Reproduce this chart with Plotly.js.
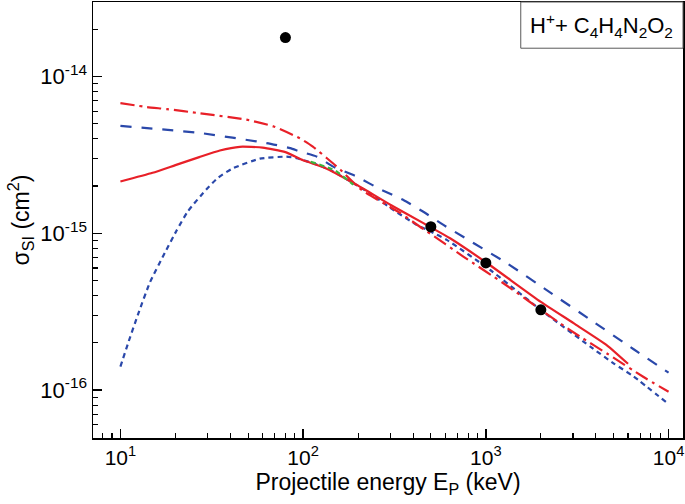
<!DOCTYPE html>
<html>
<head>
<meta charset="utf-8">
<script src="https://cdn.plot.ly/plotly-3.0.1.min.js"></script>
<style>html,body{margin:0;padding:0;background:#fff;}#chart{width:685px;height:504px;}</style>
</head>
<body>
<div id="chart"></div>
<script>
// Projectile energy (keV) and single-ionization cross sections (cm^2)
var solidE = [10, 15, 20, 27, 35, 45, 60, 80, 100, 130, 196, 300, 455, 500, 637, 1000, 2000, 3020, 4600, 6000];
var solidS = [2.14e-15, 2.43e-15, 2.72e-15, 3.06e-15, 3.37e-15, 3.56e-15, 3.52e-15, 3.29e-15, 2.92e-15, 2.63e-15, 2.04e-15, 1.52e-15, 1.16e-15, 1.09e-15, 9.29e-16, 6.53e-16, 3.65e-16, 2.67e-16, 1.93e-16, 1.47e-16];

var dashDotE = [10, 14, 18, 27, 49, 69, 96, 113, 135, 160, 209, 339, 436, 475, 753, 1247, 2450, 3280, 4600, 7300, 10000];
var dashDotS = [6.76e-15, 6.38e-15, 6.19e-15, 5.83e-15, 5.30e-15, 4.80e-15, 4.03e-15, 3.57e-15, 3.01e-15, 2.54e-15, 1.89e-15, 1.35e-15, 1.10e-15, 1.03e-15, 7.10e-16, 4.80e-16, 2.75e-16, 2.19e-16, 1.71e-16, 1.21e-16, 9.75e-17];

var longDashE = [10, 27.2, 63, 85, 96, 119, 146, 196, 264, 354, 455, 586, 1303, 2255, 3730, 6440, 10000];
var longDashS = [4.84e-15, 4.36e-15, 3.76e-15, 3.49e-15, 3.32e-15, 3.08e-15, 2.66e-15, 2.30e-15, 1.91e-15, 1.63e-15, 1.37e-15, 1.13e-15, 6.44e-16, 4.18e-16, 2.81e-16, 1.82e-16, 1.29e-16];

var shortDashE = [10, 11, 12.5, 14.5, 17.5, 20.3, 23.4, 29.6, 34.4, 41.4, 58, 81, 92, 113, 140, 232, 300, 419, 495, 611, 1057, 2000, 3730, 5000, 6440, 10000];
var shortDashS = [1.41e-16, 1.98e-16, 3.05e-16, 4.85e-16, 7.50e-16, 1.04e-15, 1.38e-15, 1.91e-15, 2.27e-15, 2.60e-15, 2.99e-15, 3.08e-15, 3.01e-15, 2.80e-15, 2.54e-15, 1.80e-15, 1.45e-15, 1.13e-15, 1.03e-15, 9.08e-16, 5.83e-16, 3.24e-16, 1.89e-16, 1.48e-16, 1.22e-16, 8.13e-17];

var greenE = [110, 150, 188];
var greenS = [2.86e-15, 2.51e-15, 2.04e-15];

var expE = [80, 500, 1000, 2000];
var expS = [1.77e-14, 1.10e-15, 6.47e-16, 3.25e-16];

var xTickVals = [10, 100, 1000, 10000];
var xTickText = ['10<sup>1</sup>', '10<sup>2</sup>', '10<sup>3</sup>', '10<sup>4</sup>'];
var yTickVals = [1e-16, 1e-15, 1e-14];
var yTickText = ['10<sup>-16</sup>', '10<sup>-15</sup>', '10<sup>-14</sup>'];
var xMinor = [8, 9, 20, 30, 40, 50, 60, 70, 80, 90, 200, 300, 400, 500, 600, 700, 800, 900, 2000, 3000, 4000, 5000, 6000, 7000, 8000, 9000];
var yMinor = [5e-17, 6e-17, 7e-17, 8e-17, 9e-17, 2e-16, 3e-16, 4e-16, 5e-16, 6e-16, 7e-16, 8e-16, 9e-16, 2e-15, 3e-15, 4e-15, 5e-15, 6e-15, 7e-15, 8e-15, 9e-15, 2e-14, 3e-14];

var RED = 'rgb(232,32,40)';
var BLUE = 'rgb(42,72,170)';
var GREEN = 'rgb(60,180,60)';

var traces = [
  {x: longDashE, y: longDashS, mode: 'lines', line: {color: BLUE, width: 2.2, dash: '11px,10px', shape: 'spline', smoothing: 0.5}},
  {x: shortDashE, y: shortDashS, mode: 'lines', line: {color: BLUE, width: 2.2, dash: '5px,4px', shape: 'spline', smoothing: 0.5}},
  {x: dashDotE, y: dashDotS, mode: 'lines', line: {color: RED, width: 2.2, dash: '14px,5px,3px,5px', shape: 'spline', smoothing: 0.5}},
  {x: solidE, y: solidS, mode: 'lines', line: {color: RED, width: 2.2, shape: 'spline', smoothing: 0.5}},
  {x: greenE, y: greenS, mode: 'lines', line: {color: GREEN, width: 2.2, dash: '5px,4px', shape: 'spline', smoothing: 0.5}},
  {x: expE, y: expS, mode: 'markers', marker: {color: 'black', size: 11, symbol: 'circle'}}
];

var FONT = 'Arial, "Liberation Sans", sans-serif';

var layout = {
  width: 685, height: 504,
  margin: {l: 93, r: 2, t: 2, b: 66, pad: 0},
  paper_bgcolor: 'white', plot_bgcolor: 'white',
  showlegend: false,
  font: {family: FONT, color: 'black'},
  xaxis: {
    type: 'log', range: [0.850, 4.079],
    tickmode: 'array', tickvals: xTickVals, ticktext: xTickText,
    ticks: 'inside', ticklen: 9, tickwidth: 1.5, tickcolor: 'black',
    ticklabeloverflow: 'allow',
    minor: {tickmode: 'array', tickvals: xMinor, ticks: 'inside', ticklen: 5, tickwidth: 1.2, tickcolor: 'black', showgrid: false},
    showgrid: false, zeroline: false,
    showline: true, mirror: true, linecolor: 'black', linewidth: 1.5,
    tickfont: {family: FONT, size: 21, color: 'black'},
    title: {text: 'Projectile energy E<sub>P</sub> (keV)', font: {family: FONT, size: 23, color: 'black'}, standoff: 6}
  },
  yaxis: {
    type: 'log', range: [-16.306, -13.525],
    tickmode: 'array', tickvals: yTickVals, ticktext: yTickText,
    ticks: 'inside', ticklen: 9, tickwidth: 1.5, tickcolor: 'black',
    minor: {tickmode: 'array', tickvals: yMinor, ticks: 'inside', ticklen: 5, tickwidth: 1.2, tickcolor: 'black', showgrid: false},
    showgrid: false, zeroline: false,
    showline: true, mirror: true, linecolor: 'black', linewidth: 1.5,
    tickfont: {family: FONT, size: 22, color: 'black'},
    title: {text: 'σ<sub>SI</sub> (cm<sup>2</sup>)', font: {family: FONT, size: 23, color: 'black'}, standoff: 4}
  },
  shapes: [
    {type: 'rect', xref: 'paper', yref: 'paper', x0: 0.725, x1: 1, y0: 0.894, y1: 1, line: {color: 'rgb(90,90,90)', width: 1}, fillcolor: 'rgba(0,0,0,0)'}
  ],
  annotations: [
    {xref: 'paper', yref: 'paper', x: 0.862, y: 0.946, xanchor: 'center', yanchor: 'middle', showarrow: false,
     text: 'H<sup>+</sup>+ C<sub>4</sub>H<sub>4</sub>N<sub>2</sub>O<sub>2</sub>', font: {family: FONT, size: 22, color: 'black'}}
  ]
};

Plotly.newPlot('chart', traces, layout, {displayModeBar: false, staticPlot: true});
</script>
</body>
</html>
